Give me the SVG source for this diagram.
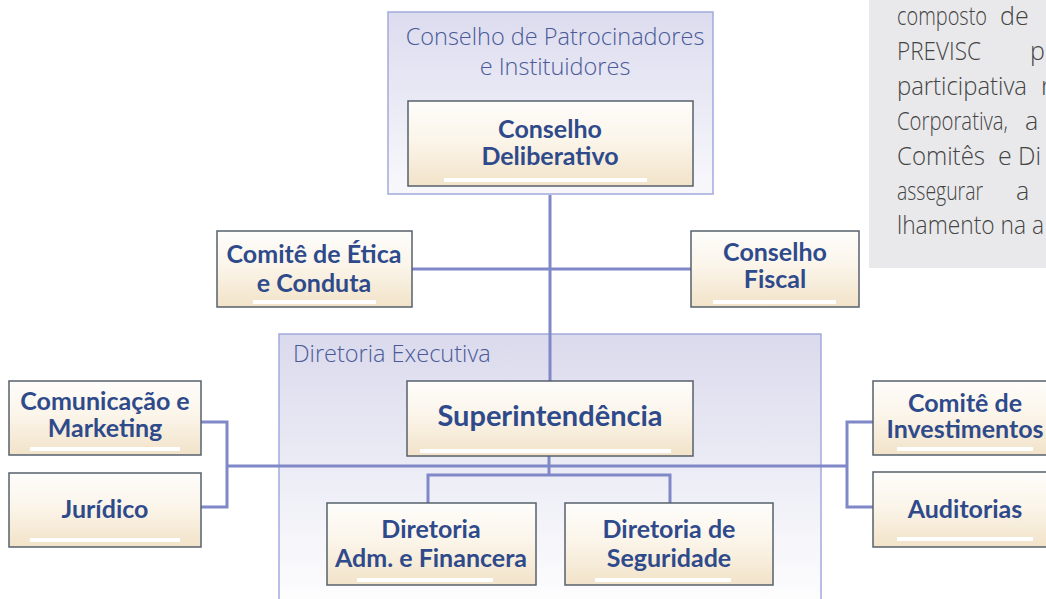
<svg xmlns="http://www.w3.org/2000/svg" width="1046" height="599" viewBox="0 0 1046 599">
<style>
.cont{stroke:#a3aadc;stroke-width:1.5}
.box{fill:url(#boxg);stroke:#56606c;stroke-width:1.5}
.bar{fill:#ffffff}
.lbl{font-family:Lato,"Open Sans","DejaVu Sans",sans-serif;font-weight:700;font-size:25px;fill:#2f4a8b;text-anchor:middle}
.big{font-size:29px}
.ttl{font-family:"Open Sans","Noto Sans",sans-serif;font-weight:300;font-size:23.5px;fill:#4b5a98}
.para{font-family:"Open Sans","Noto Sans",sans-serif;font-weight:300;font-size:25px;fill:#444444}
.ln{fill:none;stroke:#8088c8;stroke-width:3}
</style>
<defs>
<linearGradient id="boxg" x1="0" y1="0" x2="0" y2="1">
<stop offset="0" stop-color="#fefdfb"/>
<stop offset="0.45" stop-color="#fbf5ea"/>
<stop offset="1" stop-color="#f2e3c9"/>
</linearGradient>
<linearGradient id="contg1" x1="0" y1="0" x2="0" y2="1">
<stop offset="0" stop-color="#dcdcef"/>
<stop offset="1" stop-color="#f8f8fc"/>
</linearGradient>
<linearGradient id="contg2" x1="0" y1="0" x2="0" y2="1">
<stop offset="0" stop-color="#dadaed"/>
<stop offset="1" stop-color="#ffffff"/>
</linearGradient>
</defs>
<rect width="1046" height="599" fill="#ffffff"/>

<g id="text-panel">
<rect x="869" y="0" width="177" height="268" fill="#e9e9eb"/>
<text class="para" x="897" y="25" textLength="90" lengthAdjust="spacingAndGlyphs">composto</text>
<text class="para" x="1000" y="25">de</text>
<text class="para" x="897" y="60" textLength="84" lengthAdjust="spacingAndGlyphs">PREVISC</text>
<text class="para" x="1030" y="60">p</text>
<text class="para" x="897" y="95" textLength="130" lengthAdjust="spacingAndGlyphs">participativa</text>
<text class="para" x="1041" y="95">r</text>
<text class="para" x="897" y="130" textLength="111" lengthAdjust="spacingAndGlyphs">Corporativa,</text>
<text class="para" x="1025" y="130">a</text>
<text class="para" x="897" y="165" textLength="88" lengthAdjust="spacingAndGlyphs">Comitês</text>
<text class="para" x="998" y="165">e</text>
<text class="para" x="1018" y="165" textLength="23" lengthAdjust="spacingAndGlyphs">Di</text>
<text class="para" x="897" y="200" textLength="86" lengthAdjust="spacingAndGlyphs">assegurar</text>
<text class="para" x="1016" y="200">a</text>
<text class="para" x="897" y="234" textLength="147" lengthAdjust="spacingAndGlyphs">lhamento na a</text>
</g>

<g id="conselho-patrocinadores">
<rect class="cont" x="388" y="12" width="325" height="182" fill="url(#contg1)"/>
<text class="ttl" x="555" y="45" text-anchor="middle">Conselho de Patrocinadores</text>
<text class="ttl" x="555" y="75" text-anchor="middle">e Instituidores</text>
</g>

<g id="diretoria-executiva">
<rect class="cont" x="279" y="334" width="542" height="280" fill="url(#contg2)"/>
<text class="ttl" x="293" y="362">Diretoria Executiva</text>
</g>

<g id="connectors">
<path class="ln" d="M550 195V381"/>
<path class="ln" d="M412 269H691"/>
<path class="ln" d="M549 456V475"/>
<path class="ln" d="M227 466H847"/>
<path class="ln" d="M428 503V475H670V503"/>
<path class="ln" d="M201 422H227V507H201"/>
<path class="ln" d="M873 422H847V507H873"/>
</g>

<g id="conselho-deliberativo">
<rect class="box" x="408" y="101" width="285" height="85"/>
<rect class="bar" x="444" y="178" width="203" height="4"/>
<text class="lbl" x="550" y="138">Conselho</text>
<text class="lbl" x="550" y="165">Deliberativo</text>
</g>

<g id="comite-etica">
<rect class="box" x="217" y="231" width="195" height="76"/>
<rect class="bar" x="253" y="300" width="123" height="4"/>
<text class="lbl" x="314" y="263">Comitê de Ética</text>
<text class="lbl" x="314" y="292">e Conduta</text>
</g>

<g id="conselho-fiscal">
<rect class="box" x="691" y="231" width="168" height="76"/>
<rect class="bar" x="713" y="300" width="123" height="4"/>
<text class="lbl" x="775" y="261">Conselho</text>
<text class="lbl" x="775" y="288">Fiscal</text>
</g>

<g id="superintendencia">
<rect class="box" x="407" y="381" width="286" height="75"/>
<rect class="bar" x="420" y="449" width="251" height="4"/>
<text class="lbl big" x="550" y="426">Superintendência</text>
</g>

<g id="comunicacao-marketing">
<rect class="box" x="9" y="381" width="192" height="74"/>
<rect class="bar" x="30" y="447" width="150" height="4"/>
<text class="lbl" x="105" y="410">Comunicação e</text>
<text class="lbl" x="105" y="437">Marketing</text>
</g>

<g id="juridico">
<rect class="box" x="9" y="473" width="192" height="74"/>
<rect class="bar" x="30" y="538" width="150" height="4"/>
<text class="lbl" x="105" y="518">Jurídico</text>
</g>

<g id="comite-investimentos">
<rect class="box" x="873" y="381" width="186" height="74"/>
<rect class="bar" x="897" y="447" width="136" height="4"/>
<text class="lbl" x="965" y="412">Comitê de</text>
<text class="lbl" x="965" y="438">Investimentos</text>
</g>

<g id="auditorias">
<rect class="box" x="873" y="472" width="186" height="75"/>
<rect class="bar" x="897" y="537" width="136" height="4"/>
<text class="lbl" x="965" y="518">Auditorias</text>
</g>

<g id="diretoria-adm">
<rect class="box" x="327" y="503" width="209" height="82"/>
<rect class="bar" x="357" y="578" width="136" height="4"/>
<text class="lbl" x="431" y="538">Diretoria</text>
<text class="lbl" x="431" y="567">Adm. e Financera</text>
</g>

<g id="diretoria-seguridade">
<rect class="box" x="565" y="503" width="208" height="82"/>
<rect class="bar" x="595" y="578" width="136" height="4"/>
<text class="lbl" x="669" y="538">Diretoria de</text>
<text class="lbl" x="669" y="567">Seguridade</text>
</g>
</svg>
